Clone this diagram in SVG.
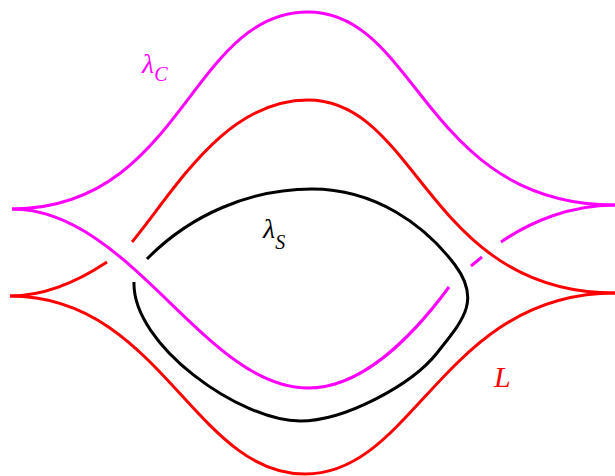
<svg xmlns="http://www.w3.org/2000/svg" width="615" height="476" viewBox="0 0 615 476">
<style>
.c{fill:none;stroke-width:3;stroke-linecap:butt;stroke-linejoin:round}
.mg{stroke:#FF00FF}
.rd{stroke:#FF0000}
.bk{stroke:#000000}
.lbl{font-family:"Liberation Serif","DejaVu Serif",serif;font-style:italic}
</style>
<rect width="615" height="476" fill="#FFFFFF"/>
<g id="curve-L">
<path class="c rd" d="M10,296 C45,296 80,280 107,262"/>
<path class="c rd" d="M132,242 C175,190 225,100 308,100 C418,100 428,293 615,293"/>
<path class="c rd" d="M10,296 C160,296 194,474 305,474 C415,474 444,293 615,293"/>
<text class="lbl" x="494" y="387" font-size="30" fill="#FF0000">L</text>
</g>
<g id="curve-lambda-S">
<path class="c bk" d="M147,259 C190,215 250,189 312,189 C375,189 425,225 455,265 C482,301 461.8,321.4 437,353 C412,384.6 345,421 300,421 C240,421 132,345 134,282"/>
<text class="lbl" x="263" y="238" font-size="28" fill="#000000">λ<tspan font-size="20" dy="11">S</tspan></text>
</g>
<g id="curve-lambda-C">
<path class="c mg" d="M12,209 C182,209 190,12 308,12 C418,12 425,205 615,205"/>
<path class="c mg" d="M12,209 C130,209 205,388 308,388 C360,388 410,340 449,287"/>
<path class="c mg" d="M471,266 L482,257"/>
<path class="c mg" d="M501,242 C530,222 570,205 615,205"/>
<text class="lbl" x="142" y="73" font-size="28" fill="#FF00FF">λ<tspan font-size="20" dy="8">C</tspan></text>
</g>
</svg>
